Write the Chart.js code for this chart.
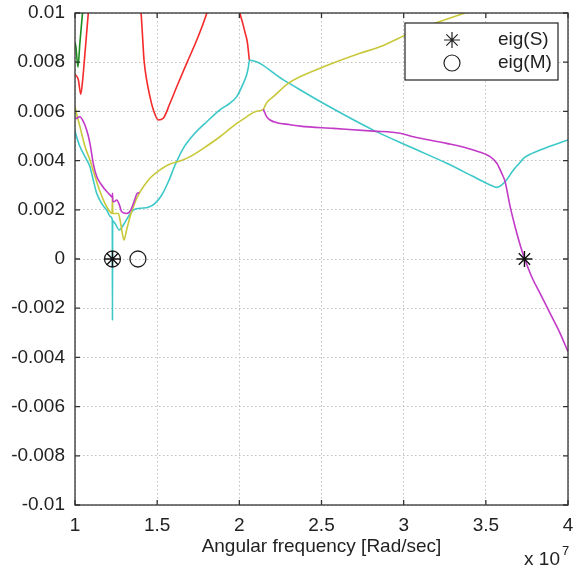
<!DOCTYPE html>
<html lang="en">
<head>
<meta charset="UTF-8">
<title>eig(S) / eig(M)</title>
<script src="https://cdn.jsdelivr.net/npm/chart.js"></script>
<style>
  body { margin: 0; background: #fff; }
  #wrap { width: 578px; height: 574px; }
</style>
</head>
<body>
<div id="wrap"><canvas id="eigChart" width="578" height="574"></canvas></div>
<script>
// x values are in units of 1e7 rad/sec
const xTicks = [1, 1.5, 2, 2.5, 3, 3.5, 4];
const yTicks = [-0.01, -0.008, -0.006, -0.004, -0.002, 0, 0.002, 0.004, 0.006, 0.008, 0.01];

const green = [[1.0, 0.0088], [1.006, 0.0086], [1.018, 0.0078], [1.03, 0.0088], [1.043, 0.0098], [1.05, 0.0103]];

const red1 = [[1.0, 0.0075], [1.02, 0.0073], [1.035, 0.0067], [1.047, 0.0073], [1.061, 0.0084],
  [1.071, 0.0092], [1.081, 0.01], [1.085, 0.0103]];
const red2 = [[1.398, 0.0102], [1.402, 0.01], [1.41, 0.00917], [1.42, 0.00809], [1.436, 0.00728],
  [1.456, 0.0066], [1.477, 0.00606], [1.507, 0.00565], [1.537, 0.00572], [1.578, 0.00633],
  [1.619, 0.007], [1.68, 0.00796], [1.741, 0.0089], [1.802, 0.01], [1.81, 0.0102]];
const red3 = [[1.998, 0.0103], [2.004, 0.01], [2.02, 0.0096], [2.035, 0.0092], [2.049, 0.0088], [2.061, 0.00808]];

const cyan = [[1.0, 0.0052], [1.004, 0.0051], [1.03, 0.00457], [1.061, 0.00416], [1.091, 0.00375],
  [1.111, 0.00321], [1.132, 0.00267], [1.162, 0.00226], [1.193, 0.00199], [1.217, 0.00172],
  [1.227, 0.00159], [1.228, -0.0025], [1.229, 0.00155], [1.243, 0.00145], [1.27, 0.00118],
  [1.294, 0.00138], [1.324, 0.00172], [1.355, 0.00199], [1.396, 0.00206], [1.446, 0.0021],
  [1.487, 0.00226], [1.528, 0.0026], [1.568, 0.00314], [1.609, 0.00382], [1.659, 0.0045],
  [1.72, 0.00504], [1.802, 0.00558], [1.882, 0.00606], [1.943, 0.00634], [1.984, 0.0066],
  [2.024, 0.00714], [2.045, 0.0075], [2.055, 0.0078], [2.061, 0.00808], [2.268, 0.00728],
  [2.511, 0.00633], [2.815, 0.00524], [3.059, 0.0045], [3.262, 0.00389], [3.424, 0.00335],
  [3.526, 0.00301], [3.567, 0.00291], [3.617, 0.00314], [3.668, 0.00362], [3.708, 0.00392],
  [3.729, 0.00409], [3.83, 0.00443], [4.0, 0.00484]];

const yellow = [[1.0, 0.0062], [1.004, 0.00606], [1.03, 0.00538], [1.061, 0.00457], [1.091, 0.00402],
  [1.122, 0.00335], [1.152, 0.00274], [1.182, 0.00226], [1.213, 0.00192], [1.226, 0.00185],
  [1.228, 0.0026], [1.23, 0.00185], [1.264, 0.00185], [1.274, 0.00159], [1.288, 0.00104],
  [1.298, 0.00077], [1.314, 0.00118], [1.335, 0.00172], [1.359, 0.0022], [1.385, 0.0026],
  [1.416, 0.00294], [1.456, 0.00328], [1.517, 0.00362], [1.578, 0.00386], [1.639, 0.00398],
  [1.7, 0.00416], [1.781, 0.0045], [1.882, 0.00497], [1.943, 0.0053], [1.984, 0.00551],
  [2.045, 0.00578], [2.1, 0.006], [2.146, 0.00608], [2.158, 0.00625], [2.176, 0.00643],
  [2.207, 0.0066], [2.298, 0.00714], [2.491, 0.00775], [2.734, 0.00836], [2.856, 0.00863],
  [3.059, 0.00925], [3.221, 0.00965], [3.373, 0.01], [3.42, 0.0101]];

const magentaLow = [[1.004, 0.0057], [1.03, 0.00578], [1.051, 0.00558], [1.071, 0.00524], [1.091, 0.0047],
  [1.111, 0.00389], [1.132, 0.00335], [1.162, 0.00301], [1.193, 0.00274], [1.223, 0.00253],
  [1.227, 0.0025], [1.228, 0.00267], [1.23, 0.00235], [1.237, 0.00233], [1.254, 0.0024],
  [1.27, 0.0022], [1.284, 0.00192], [1.314, 0.00185], [1.339, 0.00199], [1.359, 0.00233],
  [1.379, 0.00267], [1.391, 0.0027]];
const magentaHigh = [[2.146, 0.00608], [2.167, 0.00578], [2.187, 0.00565], [2.228, 0.00554], [2.309, 0.00546],
  [2.37, 0.0054], [2.572, 0.00531], [2.815, 0.0052], [2.978, 0.00511], [3.059, 0.00497],
  [3.262, 0.0047], [3.424, 0.00443], [3.526, 0.00416], [3.567, 0.00389], [3.597, 0.00348],
  [3.617, 0.00315], [3.648, 0.00213], [3.678, 0.00131], [3.712, 0.0005], [3.739, -0.00004],
  [3.779, -0.00072], [3.83, -0.0014], [3.891, -0.00221], [3.952, -0.00302], [4.0, -0.00377]];

const eigS = [[1.228, 0], [3.735, 0]];
const eigM = [[1.228, 0], [1.383, 0]];
const legendLabels = ['eig(S)', 'eig(M)'];
const xTitle = 'Angular frequency [Rad/sec]';

const FONT = '"Liberation Sans", Arial, sans-serif';
Chart.defaults.font.family = FONT;
Chart.defaults.font.size = 19;
Chart.defaults.color = '#222';

const pts = arr => arr.map(p => ({ x: p[0], y: p[1] }));

function curve(arr, color) {
  return {
    data: pts(arr), showLine: true, borderColor: color, borderWidth: 1.6,
    pointRadius: 0, cubicInterpolationMode: 'monotone', fill: false
  };
}

// box, inner ticks, legend and the exponent, MATLAB style
const framePlugin = {
  id: 'frame',
  afterDatasetsDraw(chart) {
    const { ctx, chartArea: a, scales: { x, y } } = chart;
    ctx.save();
    ctx.strokeStyle = '#333';
    ctx.lineWidth = 1.3;
    ctx.strokeRect(a.left, a.top, a.right - a.left, a.bottom - a.top);
    ctx.beginPath();
    xTicks.forEach(v => {
      const px = x.getPixelForValue(v);
      ctx.moveTo(px, a.bottom); ctx.lineTo(px, a.bottom - 5);
      ctx.moveTo(px, a.top); ctx.lineTo(px, a.top + 5);
    });
    yTicks.forEach(v => {
      const py = y.getPixelForValue(v);
      ctx.moveTo(a.left, py); ctx.lineTo(a.left + 5, py);
      ctx.moveTo(a.right, py); ctx.lineTo(a.right - 5, py);
    });
    ctx.stroke();

    // legend
    const bx = a.right - 163, by = a.top + 10, bw = 153, bh = 57;
    ctx.fillStyle = '#fff';
    ctx.fillRect(bx, by, bw, bh);
    ctx.strokeStyle = '#222';
    ctx.lineWidth = 1.2;
    ctx.strokeRect(bx, by, bw, bh);
    const mx = bx + 47, r1 = by + 17, r2 = by + 40;
    ctx.beginPath();
    for (let k = 0; k < 4; k++) {
      const ang = k * Math.PI / 4;
      ctx.moveTo(mx - 8 * Math.cos(ang), r1 - 8 * Math.sin(ang));
      ctx.lineTo(mx + 8 * Math.cos(ang), r1 + 8 * Math.sin(ang));
    }
    ctx.stroke();
    ctx.beginPath();
    ctx.arc(mx, r2, 8, 0, Math.PI * 2);
    ctx.stroke();
    ctx.fillStyle = '#222';
    ctx.font = '19px ' + FONT;
    ctx.textAlign = 'left';
    ctx.textBaseline = 'middle';
    ctx.fillText(legendLabels[0], bx + 93, r1);
    ctx.fillText(legendLabels[1], bx + 93, r2);

    // x 10^7
    ctx.textAlign = 'right';
    ctx.fillText('x 10', a.right - 8, 560);
    ctx.font = '13px ' + FONT;
    ctx.textAlign = 'left';
    ctx.fillText('7', a.right - 6, 551);
    ctx.restore();
  }
};

new Chart(document.getElementById('eigChart'), {
  type: 'scatter',
  data: {
    datasets: [
      { data: pts(eigS), pointStyle: 'star', pointRadius: 8, borderColor: '#111', borderWidth: 1.4, showLine: false },
      { data: pts(eigM), pointStyle: 'circle', pointRadius: 8, borderColor: '#222', backgroundColor: 'rgba(0,0,0,0)', borderWidth: 1.3, showLine: false },
      curve(magentaHigh, '#c23ac8'),
      curve(magentaLow, '#c23ac8'),
      curve(yellow, '#c8c83a'),
      curve(cyan, '#3cc8c8'),
      curve(red3, '#f52a2a'),
      curve(red2, '#f52a2a'),
      curve(red1, '#f52a2a'),
      curve(green, '#1e8c1e')
    ]
  },
  options: {
    responsive: false,
    animation: false,
    layout: { autoPadding: false, padding: { top: 13, right: 10, left: 0, bottom: 0 } },
    plugins: { legend: { display: false }, tooltip: { enabled: false } },
    scales: {
      x: {
        type: 'linear', min: 1, max: 4,
        afterBuildTicks: s => { s.ticks = xTicks.map(v => ({ value: v })); },
        afterFit: s => { s.height = 69; s.paddingLeft = 0; s.paddingRight = 0; },
        ticks: { padding: 9, callback: v => String(v), maxRotation: 0 },
        grid: { color: '#c0c0c0', lineWidth: 1, drawTicks: false },
        border: { display: false, dash: [1.5, 2.5] },
        title: { display: true, text: xTitle, padding: { top: 0, bottom: 15.6 } }
      },
      y: {
        type: 'linear', min: -0.01, max: 0.01,
        afterBuildTicks: s => { s.ticks = yTicks.map(v => ({ value: v })); },
        afterFit: s => { s.width = 75; s.paddingTop = 0; s.paddingBottom = 0; },
        ticks: { padding: 10, callback: v => String(+v.toFixed(4)) },
        grid: { color: '#c0c0c0', lineWidth: 1, drawTicks: false },
        border: { display: false, dash: [1.5, 2.5] }
      }
    }
  },
  plugins: [framePlugin]
});
</script>
</body>
</html>
